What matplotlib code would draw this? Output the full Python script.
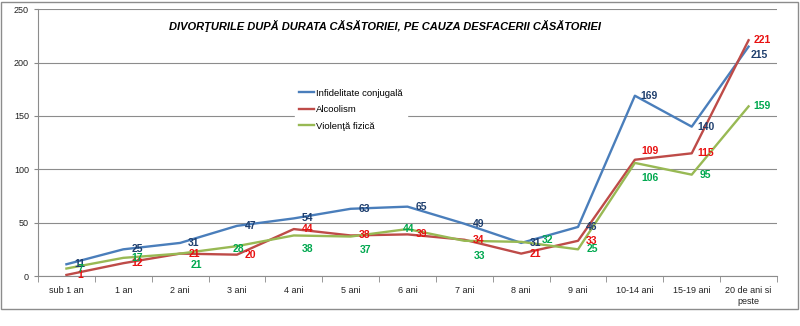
#!/usr/bin/env python3
"""Divorturile dupa durata casatoriei, pe cauza desfacerii casatoriei."""
import matplotlib
matplotlib.use("Agg")
import matplotlib.pyplot as plt
from matplotlib.patches import Rectangle

CATEGORIES = ["sub 1 an", "1 an", "2 ani", "3 ani", "4 ani", "5 ani", "6 ani",
              "7 ani", "8 ani", "9 ani", "10-14 ani", "15-19 ani", "20 de ani si\npeste"]
INFIDELITATE = [11, 25, 31, 47, 54, 63, 65, 49, 31, 46, 169, 140, 215]
ALCOOLISM = [1, 12, 21, 20, 44, 38, 39, 34, 21, 33, 109, 115, 221]
VIOLENTA = [7, 17, 21, 28, 38, 37, 44, 33, 32, 25, 106, 95, 159]

SERIES = [
    ("Infidelitate conjugală", INFIDELITATE, "#4a7ebb", "#1f3f6e"),
    ("Alcoolism", ALCOOLISM, "#be4b48", "#e81010"),
    ("Violenţă fizică", VIOLENTA, "#98b954", "#00a84f"),
]

# label offsets in points (default: right of the point)
DEFAULT_OFF = (10, 0)
LABEL_OFF = {
    ("Violenţă fizică", 2): (12, -8),
    ("Violenţă fizică", 3): (1, -2),
    ("Violenţă fizică", 4): (10, -10),
    ("Violenţă fizică", 5): (11, -10),
    ("Violenţă fizică", 6): (1, 0),
    ("Violenţă fizică", 7): (11, -11),
    ("Violenţă fizică", 8): (19, 1),
    ("Violenţă fizică", 10): (11, -11),
    ("Infidelitate conjugală", 12): (8, -6),
    ("Alcoolism", 10): (11, 6),
}

plt.rcParams["font.family"] = ["Liberation Sans", "DejaVu Sans"]

fig = plt.figure(figsize=(8.0, 3.26), dpi=100)
ax = fig.add_axes([38 / 800, 1 - 276 / 326, (777 - 38) / 800, (276 - 9.3) / 326])

x = list(range(len(CATEGORIES)))
for name, vals, color, tcolor in SERIES:
    ax.plot(x, vals, color=color, linewidth=1.7, label=name, zorder=3)
    for i, v in enumerate(vals):
        ax.annotate(str(v), (i, v), xytext=LABEL_OFF.get((name, i), DEFAULT_OFF),
                    textcoords="offset points", ha="center", va="center",
                    fontsize=7.5, fontweight="bold", color=tcolor, zorder=4)

ax.set_xlim(-0.5, len(CATEGORIES) - 0.5)
ax.set_ylim(0, 250)
ax.set_yticks(range(0, 251, 50))
ax.set_xticks(x)
ax.set_xticklabels(CATEGORIES, fontsize=6.5, color="#222222", linespacing=1.3)
ax.set_xticks([i - 0.5 for i in range(len(CATEGORIES) + 1)], minor=True)
ax.tick_params(axis="x", which="major", length=0, pad=7)
ax.tick_params(axis="x", which="minor", length=4, color="#888888", direction="out")
ax.tick_params(axis="y", labelsize=6.5, length=3, color="#888888", labelcolor="#222222")
ax.grid(axis="y", color="#8c8c8c", linewidth=0.8)
ax.set_axisbelow(True)
for side in ["top", "right"]:
    ax.spines[side].set_visible(False)
ax.spines["left"].set_color("#8c8c8c")
ax.spines["bottom"].set_color("#8c8c8c")

fig.text(385 / 800, 1 - 26 / 326,
         "DIVORŢURILE DUPĂ DURATA CĂSĂTORIEI, PE CAUZA DESFACERII CĂSĂTORIEI",
         ha="center", va="center", fontsize=8, fontweight="bold", style="italic")

leg = ax.legend(loc="upper left", bbox_to_anchor=(290 / 800, 1 - 80 / 326),
                bbox_transform=fig.transFigure, frameon=True, fontsize=6.8,
                handlelength=1.6, handletextpad=0.3, labelspacing=0.8,
                borderpad=0.4, fancybox=False)
leg.get_frame().set_edgecolor("white")
leg.get_frame().set_facecolor("white")
leg.get_frame().set_alpha(1)

fig.patches.append(Rectangle((1 / 800, 1 - 309 / 326), 797 / 800, 307 / 326,
                             transform=fig.transFigure, fill=False,
                             edgecolor="#8c8c8c", linewidth=1.0))

fig.savefig("out.png", dpi=100)
